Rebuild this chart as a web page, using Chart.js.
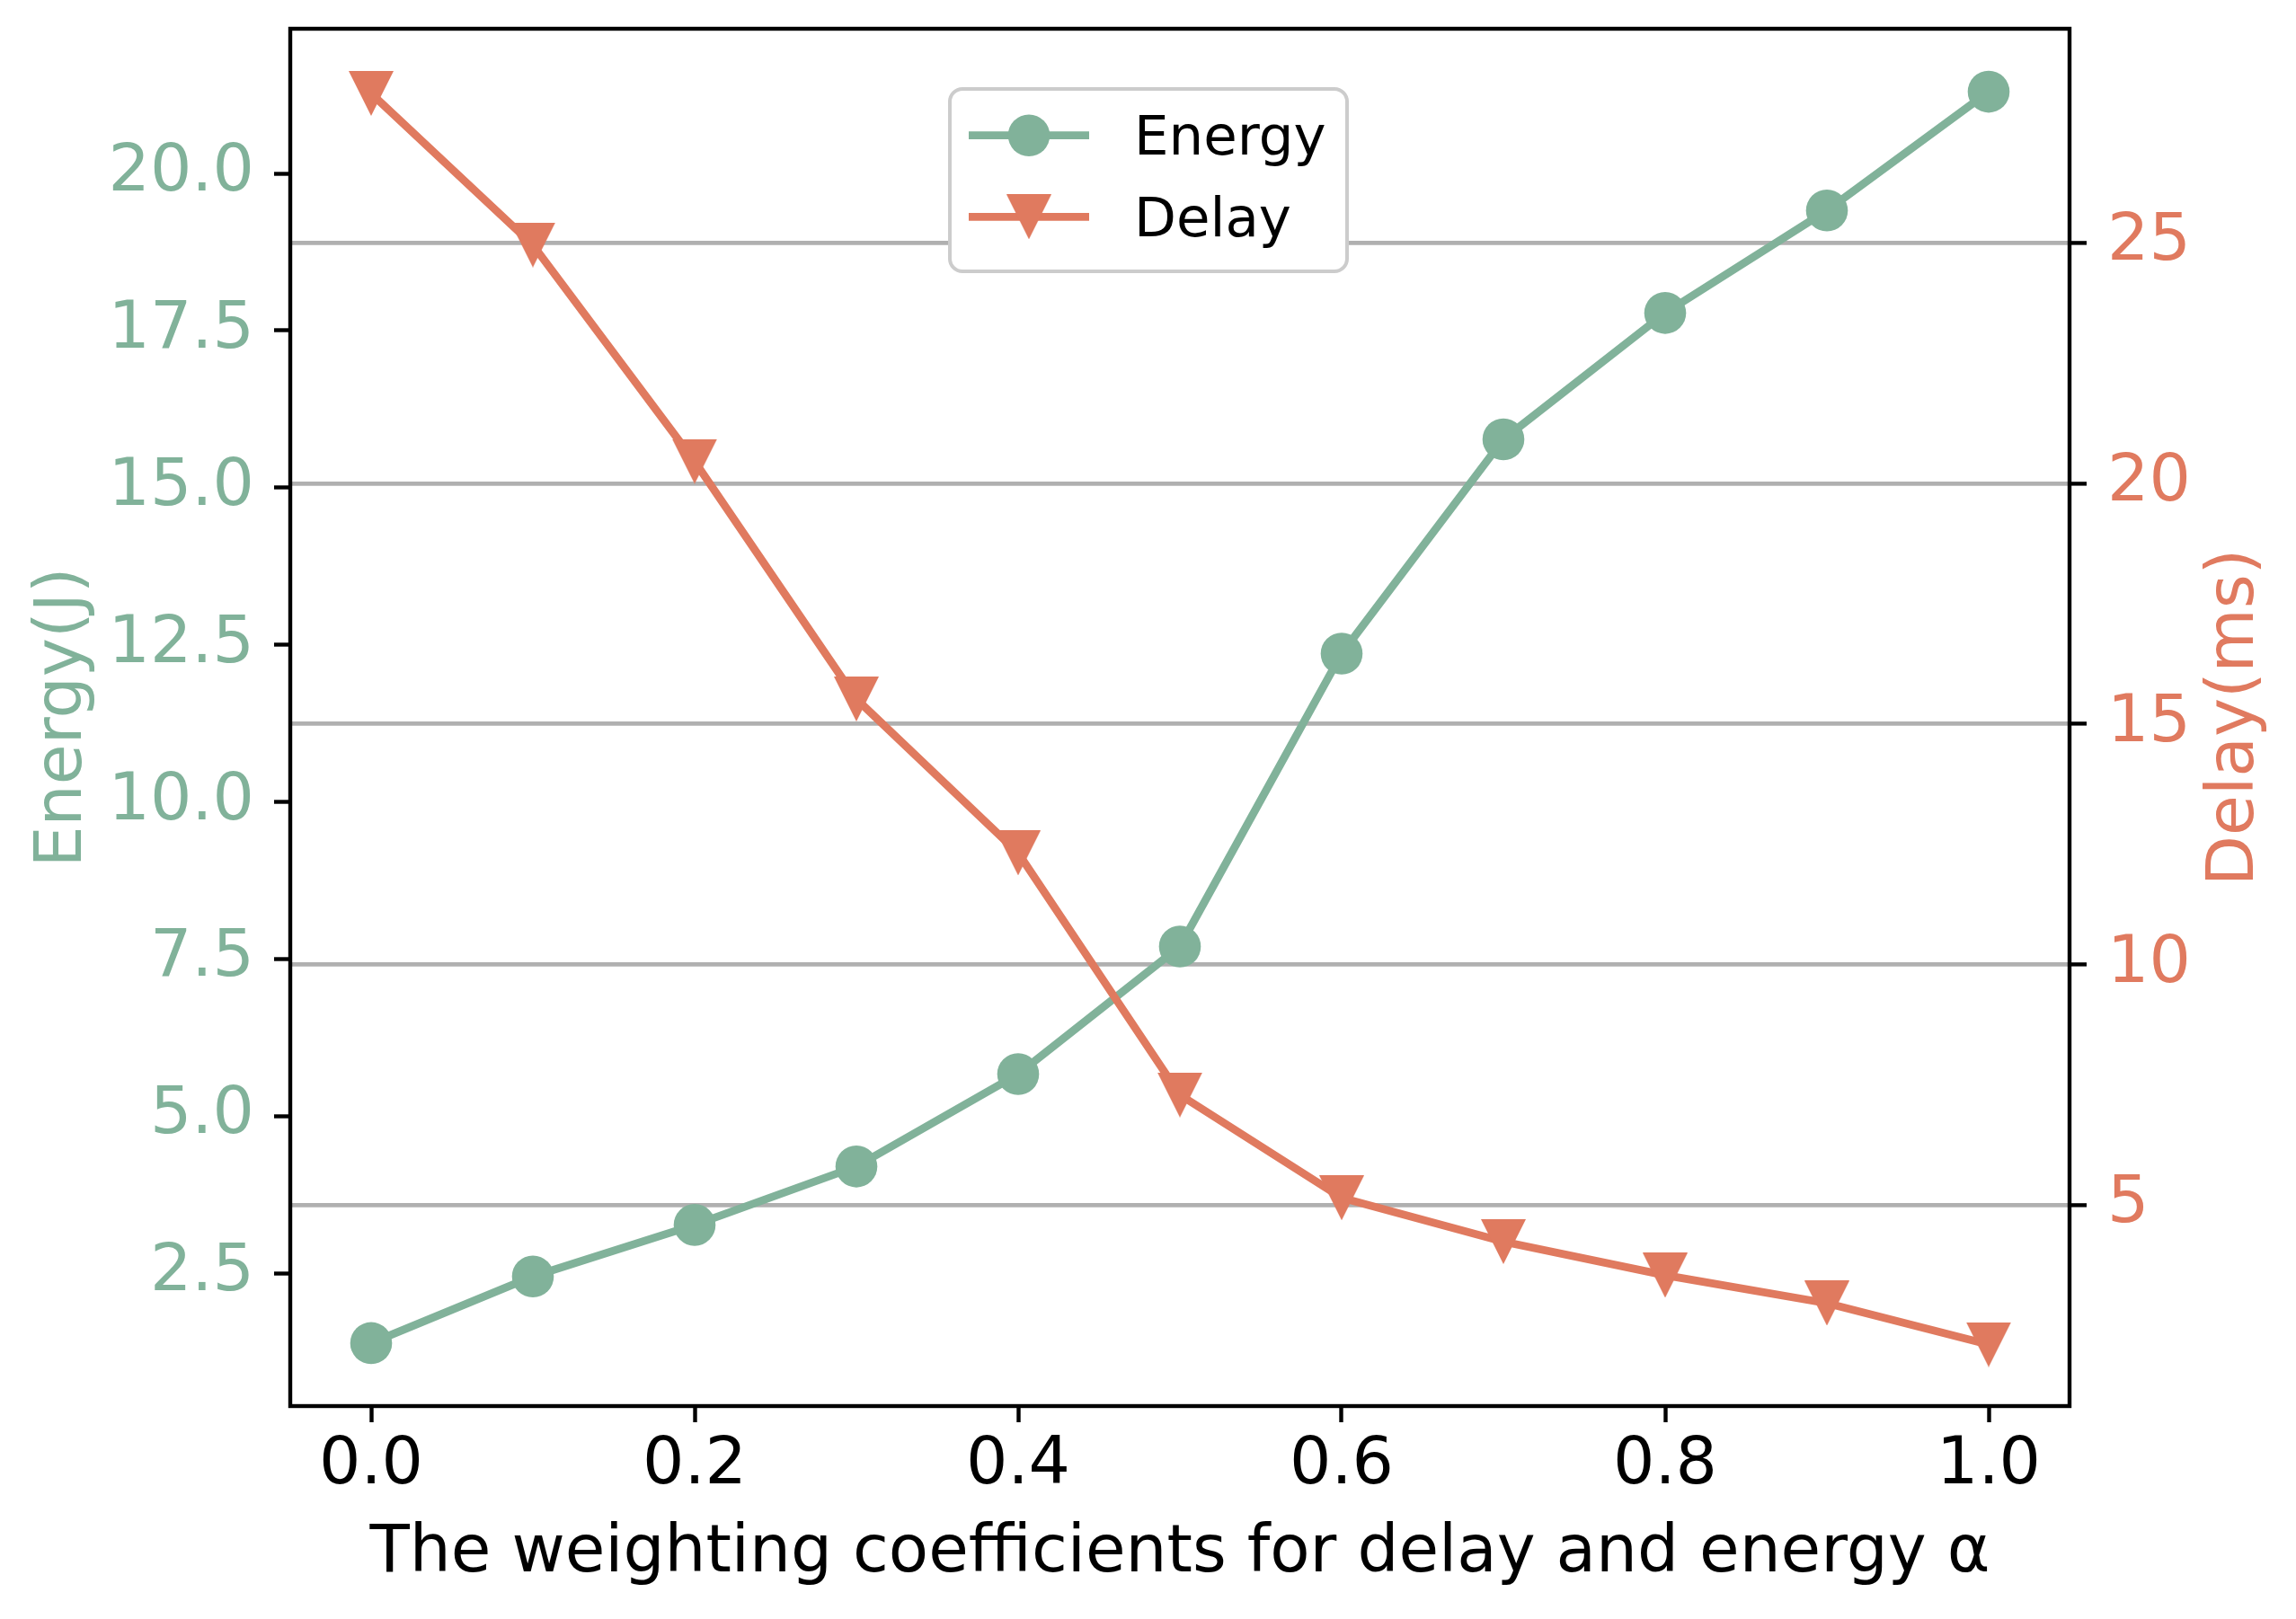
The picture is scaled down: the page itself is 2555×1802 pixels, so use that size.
<!DOCTYPE html>
<html><head><meta charset="utf-8">
<script src="https://cdn.jsdelivr.net/npm/chart.js@4.4.1/dist/chart.umd.min.js"></script>
<style>html,body{margin:0;padding:0;background:#fff;overflow:hidden}canvas{display:block}</style>
</head><body>
<canvas id="c" width="2555" height="1802" style="width:2555px;height:1802px"></canvas>
<script>
// ---- data ----
const alphaValues  = [0.0, 0.1, 0.2, 0.3, 0.4, 0.5, 0.6, 0.7, 0.8, 0.9, 1.0];
const energyValues = [1.39, 2.45, 3.27, 4.20, 5.67, 7.70, 12.36, 15.77, 17.78, 19.41, 21.30];
const delayValues  = [28.11, 24.96, 20.46, 15.52, 12.32, 7.29, 5.15, 4.24, 3.54, 2.96, 2.10];
const xTicks       = [0.0, 0.2, 0.4, 0.6, 0.8, 1.0];
const energyTicks  = [2.5, 5.0, 7.5, 10.0, 12.5, 15.0, 17.5, 20.0];
const delayTicks   = [5, 10, 15, 20, 25];
const seriesNames  = ['Energy', 'Delay'];
const xTitle       = 'The weighting coefficients for delay and energy α';
const energyTitle  = 'Energy(J)';
const delayTitle   = 'Delay(ms)';

const GREEN = '#81b29a', ORANGE = '#e07a5f';
const FONT = 'DejaVu Sans';
Chart.defaults.font.family = FONT;
const LINE_W = 8.8;

// down-pointing triangle marker (like matplotlib 'v')
function triangleMarker(size, color) {
  const c = document.createElement('canvas');
  c.width = size; c.height = size;
  const g = c.getContext('2d');
  g.fillStyle = color;
  g.beginPath(); g.moveTo(0, 0); g.lineTo(size, 0); g.lineTo(size / 2, size); g.closePath(); g.fill();
  return c;
}
const triImg = triangleMarker(50, ORANGE);

const frame = {
  id: 'frame',
  afterDatasetsDraw(chart) {
    const {ctx, chartArea: a} = chart;
    ctx.save();
    ctx.strokeStyle = '#000'; ctx.lineWidth = 4.4;
    ctx.strokeRect(a.left, a.top, a.right - a.left, a.bottom - a.top);
    ctx.restore();
  }
};

const extras = {
  id: 'extras',
  afterDraw(chart) {
    const {ctx, chartArea: a} = chart;
    ctx.save();
    // right axis title (reads bottom to top)
    ctx.translate(2507, (a.top + a.bottom) / 2);
    ctx.rotate(-Math.PI / 2);
    ctx.fillStyle = ORANGE; ctx.font = '73px "' + FONT + '"';
    ctx.textAlign = 'center'; ctx.textBaseline = 'alphabetic';
    ctx.fillText(delayTitle, 0, 0);
    ctx.restore();

    // legend box
    const bx = a.left + 734, by = a.top + 67, bw = 442, bh = 203, r = 14;
    ctx.save();
    ctx.beginPath();
    ctx.moveTo(bx + r, by); ctx.lineTo(bx + bw - r, by); ctx.arcTo(bx + bw, by, bx + bw, by + r, r);
    ctx.lineTo(bx + bw, by + bh - r); ctx.arcTo(bx + bw, by + bh, bx + bw - r, by + bh, r);
    ctx.lineTo(bx + r, by + bh); ctx.arcTo(bx, by + bh, bx, by + bh - r, r);
    ctx.lineTo(bx, by + r); ctx.arcTo(bx, by, bx + r, by, r); ctx.closePath();
    ctx.fillStyle = '#fff'; ctx.fill();
    ctx.strokeStyle = '#cccccc'; ctx.lineWidth = 4; ctx.stroke();
    chart.data.datasets.forEach((ds, i) => {
      const ly = by + 51.7 + i * 90.6;
      ctx.strokeStyle = ds.borderColor; ctx.lineWidth = LINE_W; ctx.lineCap = 'butt';
      ctx.beginPath(); ctx.moveTo(bx + 21, ly); ctx.lineTo(bx + 155, ly); ctx.stroke();
      if (typeof ds.pointStyle === 'object') {
        ctx.drawImage(ds.pointStyle, bx + 88 - ds.pointStyle.width / 2, ly - ds.pointStyle.height / 2);
      } else {
        ctx.fillStyle = ds.pointBackgroundColor;
        ctx.beginPath(); ctx.arc(bx + 88, ly, ds.pointRadius, 0, Math.PI * 2); ctx.fill();
      }
      ctx.fillStyle = '#000'; ctx.font = '61px "' + FONT + '"';
      ctx.textAlign = 'left'; ctx.textBaseline = 'alphabetic';
      ctx.fillText(ds.label, bx + 205, ly + 21.3);
    });
    ctx.restore();
  }
};

const toPts = (xs, ys) => xs.map((x, i) => ({x, y: ys[i]}));
const noPad = s => { s.paddingTop = 0; s.paddingBottom = 0; s.paddingLeft = 0; s.paddingRight = 0; };

new Chart(document.getElementById('c'), {
  type: 'line',
  data: {
    datasets: [
      {
        label: seriesNames[0], data: toPts(alphaValues, energyValues), yAxisID: 'y',
        borderColor: GREEN, backgroundColor: GREEN, borderWidth: LINE_W, tension: 0,
        pointStyle: 'circle', pointRadius: 23.3, pointBackgroundColor: GREEN, pointBorderWidth: 0,
        order: 1, clip: false
      },
      {
        label: seriesNames[1], data: toPts(alphaValues, delayValues), yAxisID: 'y2',
        borderColor: ORANGE, backgroundColor: ORANGE, borderWidth: LINE_W, tension: 0,
        pointStyle: triImg, pointRadius: 25, pointBackgroundColor: ORANGE, pointBorderWidth: 0,
        order: 0, clip: false
      }
    ]
  },
  options: {
    responsive: false, animation: false, devicePixelRatio: 1, events: [],
    layout: {padding: {top: 32, left: 0, right: 0, bottom: 0}},
    plugins: {legend: {display: false}, tooltip: {enabled: false}},
    scales: {
      x: {
        type: 'linear', position: 'bottom', min: -0.05, max: 1.05,
        afterFit: s => { s.height = 237; noPad(s); },
        afterBuildTicks: s => { s.ticks = xTicks.map(v => ({value: v})); },
        border: {display: false},
        grid: {drawOnChartArea: false, drawTicks: true, tickLength: 18, tickColor: '#000', tickWidth: 4.4},
        ticks: {color: '#000', font: {size: 73, lineHeight: 1.2}, padding: 5, maxRotation: 0,
                callback: v => v.toFixed(1)},
        title: {display: true, text: xTitle, color: '#000', font: {size: 72.5, lineHeight: 1.2},
                padding: {top: 0, bottom: 28}}
      },
      y: {
        type: 'linear', position: 'left', min: 0.388, max: 22.302,
        afterFit: s => { s.width = 323; noPad(s); },
        afterBuildTicks: s => { s.ticks = energyTicks.map(v => ({value: v})); },
        border: {display: false},
        grid: {drawOnChartArea: false, drawTicks: true, tickLength: 18, tickColor: '#000', tickWidth: 4.4},
        ticks: {color: GREEN, font: {size: 73, lineHeight: 1.2}, padding: 22, callback: v => v.toFixed(1)},
        title: {display: true, text: energyTitle, color: GREEN, font: {size: 73, lineHeight: 1.2},
                padding: {top: 27, bottom: 0}}
      },
      y2: {
        type: 'linear', position: 'right', min: 0.821, max: 29.454,
        afterFit: s => { s.width = 252; noPad(s); },
        afterBuildTicks: s => { s.ticks = delayTicks.map(v => ({value: v})); },
        border: {display: false},
        grid: {drawOnChartArea: true, color: '#b0b0b0', lineWidth: 4.8, drawTicks: true,
               tickLength: 19, tickColor: '#000', tickWidth: 4.4},
        ticks: {color: ORANGE, font: {size: 73, lineHeight: 1.2}, padding: 23, callback: v => String(v)},
        title: {display: false}
      }
    }
  },
  plugins: [frame, extras]
});
</script>
</body></html>
